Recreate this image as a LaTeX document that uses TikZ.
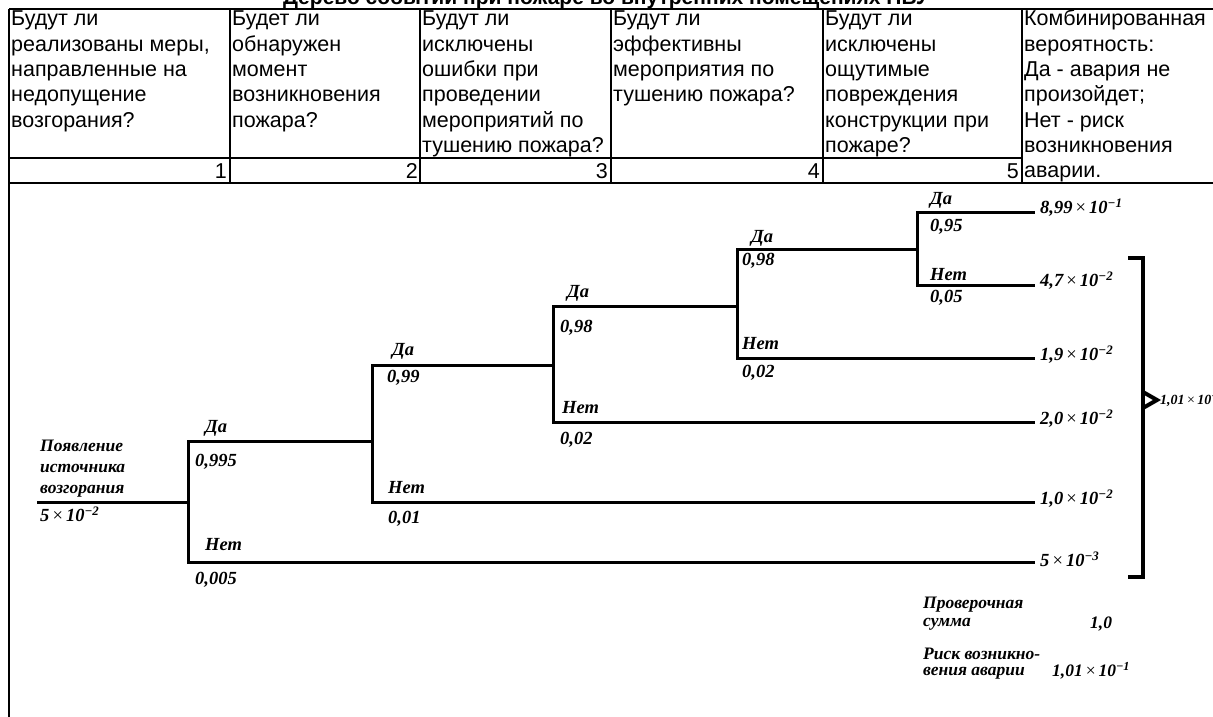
\documentclass[tikz,border=0pt]{standalone}
\usepackage{fontspec}
\setmainfont{Liberation Serif}
\newfontfamily\tabfont{Liberation Sans}
\newcommand{\ptimes}{{\upshape\mdseries\,×\,}}
\begin{document}
\begin{tikzpicture}[x=1pt,y=-1pt,
  tline/.style={line width=1.8pt},
  branch/.style={line width=3pt, line cap=rect},
  brk/.style={line width=4pt, line join=miter},
  cell/.style={anchor=base west, inner sep=0pt, font=\tabfont\fontsize{21.5}{25.3}\selectfont},
  num/.style={anchor=base east, inner sep=0pt, font=\tabfont\fontsize{21.5}{25.3}\selectfont},
  lab/.style={anchor=west, inner sep=0pt, font=\fontsize{18.5}{21}\selectfont\bfseries\itshape},
  val/.style={anchor=west, inner sep=0pt, font=\fontsize{18.5}{21}\selectfont\bfseries\itshape},
  note/.style={anchor=west, inner sep=0pt, font=\fontsize{17.5}{20}\selectfont\bfseries\itshape},
  ttl/.style={anchor=base, inner sep=0pt, font=\tabfont\fontsize{21}{24}\selectfont\bfseries}]
\useasboundingbox (0,0) rectangle (1213,717);
\clip (0,0) rectangle (1213,717);
\fill[white] (0,0) rectangle (1213,717);

% title (clipped at top, as in the reference)
\node[ttl] (title) at (606,5) {Дерево событий при пожаре во внутренних помещениях НВУ};

% table
\coordinate (tl) at (9,9);
\coordinate (tr) at (1213,9);
\coordinate (bl) at (9,183);
\coordinate (br) at (1213,183);
\coordinate (rl) at (9,158);
\coordinate (rr) at (1022,158);
\coordinate (lb) at (9,717);
\draw[tline] (tl) -- (tr);
\draw[tline] (bl) -- (br);
\draw[tline] (rl) -- (rr);
\draw[tline] (tl) -- (lb);
\foreach \cx in {230,420,611,823,1022} {
  \draw[tline] (\cx,9) -- (\cx,183);
}

\node[cell] (c1) at (11,26) {\begin{tabular}[t]{@{}l@{}}Будут ли\\реализованы меры,\\направленные на\\недопущение\\возгорания?\end{tabular}};
\node[cell] (c2) at (232,26) {\begin{tabular}[t]{@{}l@{}}Будет ли\\обнаружен\\момент\\возникновения\\пожара?\end{tabular}};
\node[cell] (c3) at (422,26) {\begin{tabular}[t]{@{}l@{}}Будут ли\\исключены\\ошибки при\\проведении\\мероприятий по\\тушению пожара?\end{tabular}};
\node[cell] (c4) at (613,26) {\begin{tabular}[t]{@{}l@{}}Будут ли\\эффективны\\мероприятия по\\тушению пожара?\end{tabular}};
\node[cell] (c5) at (825,26) {\begin{tabular}[t]{@{}l@{}}Будут ли\\исключены\\ощутимые\\повреждения\\конструкции при\\пожаре?\end{tabular}};
\node[cell] (c6) at (1024,26) {\begin{tabular}[t]{@{}l@{}}Комбинированная\\вероятность:\\Да - авария не\\произойдет;\\Нет - риск\\возникновения\\аварии.\end{tabular}};

\node[num] (n1t) at (227,178) {1};
\node[num] (n2t) at (418,178) {2};
\node[num] (n3t) at (608,178) {3};
\node[num] (n4t) at (820,178) {4};
\node[num] (n5t) at (1019,178) {5};

% tree coordinates
\coordinate (s) at (38,502);
\coordinate (p1) at (188,502);
\coordinate (a1) at (188,441);
\coordinate (b1) at (188,562);
\coordinate (p2) at (372,441);
\coordinate (a2) at (372,365);
\coordinate (b2) at (372,502);
\coordinate (p3) at (553,365);
\coordinate (a3) at (553,306);
\coordinate (b3) at (553,422);
\coordinate (p4) at (737,306);
\coordinate (a4) at (737,249);
\coordinate (b4) at (737,358);
\coordinate (p5) at (917,249);
\coordinate (a5) at (917,212);
\coordinate (b5) at (917,285);
\coordinate (e1) at (1033,212);
\coordinate (e2) at (1033,285);
\coordinate (e3) at (1033,358);
\coordinate (e4) at (1033,422);
\coordinate (e5) at (1033,502);
\coordinate (e6) at (1033,562);

\draw[branch] (s) -- (p1);
\draw[branch] (a1) -- (b1);
\draw[branch] (a1) -- (p2);
\draw[branch] (b1) -- (e6);
\draw[branch] (a2) -- (b2);
\draw[branch] (a2) -- (p3);
\draw[branch] (b2) -- (e5);
\draw[branch] (a3) -- (b3);
\draw[branch] (a3) -- (p4);
\draw[branch] (b3) -- (e4);
\draw[branch] (a4) -- (b4);
\draw[branch] (a4) -- (p5);
\draw[branch] (b4) -- (e3);
\draw[branch] (a5) -- (b5);
\draw[branch] (a5) -- (e1);
\draw[branch] (b5) -- (e2);

% root labels
\node[lab, anchor=south west, align=left, font=\fontsize{17.5}{21}\selectfont\bfseries\itshape] (root) at (40,497) {Появление\\источника\\возгорания};
\node[lab] (rootv) at (40,514) {5\ptimes 10\textsuperscript{−2}};

% branch labels
\node[lab] (y1) at (205,428) {Да};
\node[lab] (q1) at (195,462) {0,995};
\node[lab] (x1) at (205,545) {Нет};
\node[lab] (r1) at (195,580) {0,005};

\node[lab] (y2) at (392,351) {Да};
\node[lab] (q2) at (387,378) {0,99};
\node[lab] (x2) at (388,488) {Нет};
\node[lab] (r2) at (388,519) {0,01};

\node[lab] (y3) at (567,293) {Да};
\node[lab] (q3) at (560,328) {0,98};
\node[lab] (x3) at (562,408) {Нет};
\node[lab] (r3) at (560,440) {0,02};

\node[lab] (y4) at (751,238) {Да};
\node[lab] (q4) at (742,261) {0,98};
\node[lab] (x4) at (742,344) {Нет};
\node[lab] (r4) at (742,373) {0,02};

\node[lab] (y5) at (930,200) {Да};
\node[lab] (q5) at (930,227) {0,95};
\node[lab] (x5) at (930,275) {Нет};
\node[lab] (r5) at (930,298) {0,05};

% end values
\node[val] (v1) at (1040,208) {8,99\ptimes 10\textsuperscript{−1}};
\node[val] (v2) at (1040,281) {4,7\ptimes 10\textsuperscript{−2}};
\node[val] (v3) at (1040,355) {1,9\ptimes 10\textsuperscript{−2}};
\node[val] (v4) at (1040,419) {2,0\ptimes 10\textsuperscript{−2}};
\node[val] (v5) at (1040,499) {1,0\ptimes 10\textsuperscript{−2}};
\node[val] (v6) at (1040,559) {5\ptimes 10\textsuperscript{−3}};

% bracket
\coordinate (bt0) at (1128,258);
\coordinate (bt1) at (1143,258);
\coordinate (bb1) at (1143,577);
\coordinate (bb0) at (1128,577);
\coordinate (ch0) at (1143,392);
\coordinate (ch1) at (1157,400);
\coordinate (ch2) at (1143,408);
\draw[brk] (bt0) -- (bt1) -- (bb1) -- (bb0);
\draw[brk] (ch0) -- (ch1) -- (ch2);
\node[val, font=\fontsize{14}{16}\selectfont\bfseries\itshape] (sum) at (1160,400) {1,01\ptimes 10\textsuperscript{−1}};

% bottom notes
\node[note] (chk1) at (923,605) {Проверочная};
\node[note] (chk2) at (923,624) {сумма};
\node[note] (chkv) at (1090,624) {1,0};
\node[note] (rk1) at (923,654) {Риск возникно-};
\node[note] (rk2) at (923,673) {вения аварии};
\node[note] (rkv) at (1052,671) {1,01\ptimes 10\textsuperscript{−1}};
\end{tikzpicture}
\end{document}
